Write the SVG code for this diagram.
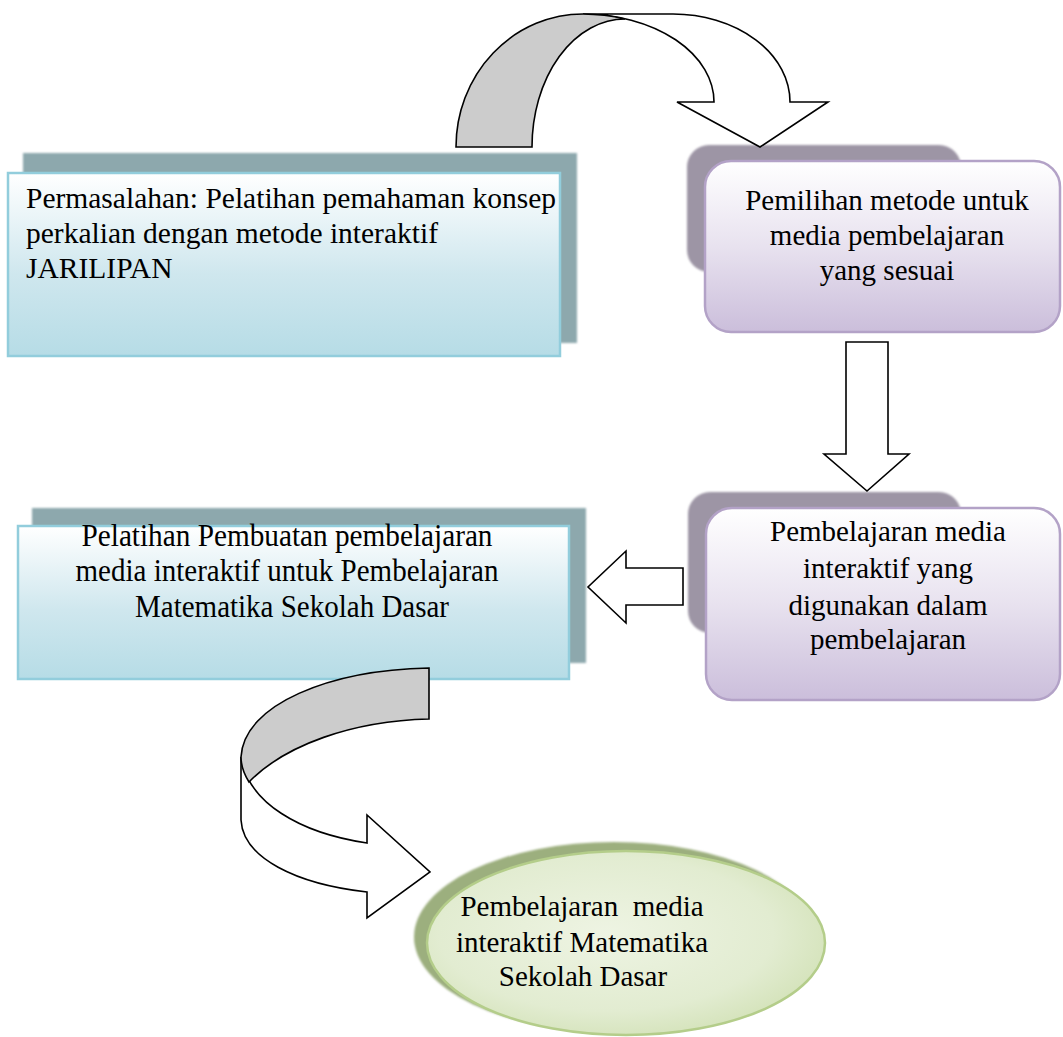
<svg xmlns="http://www.w3.org/2000/svg" width="1063" height="1037" viewBox="0 0 1063 1037">
<style>
text{font-family:"Liberation Serif","Times New Roman",serif;font-size:29px;fill:#000}
.c{text-anchor:middle}
.t1{font-size:29.5px}
.t4{font-size:31px}
.arr{stroke:#000;stroke-width:1.6;stroke-linejoin:miter}
.w{fill:#fff}
.g{fill:#cccccc}
.bshadow{fill:#8da8ad}
.bfront{fill:url(#gBlue);stroke:#92cddc;stroke-width:2.5}
.pshadow{fill:#9d95a5}
.pfront{fill:url(#gPurple);stroke:#b3a2c7;stroke-width:2.5}
</style>
<defs>
<linearGradient id="gBlue" x1="0" y1="0" x2="0" y2="1">
<stop offset="0" stop-color="#ffffff"/>
<stop offset="0.55" stop-color="#cfe7ee"/>
<stop offset="1" stop-color="#b6dce6"/>
</linearGradient>
<linearGradient id="gPurple" x1="0" y1="0" x2="0" y2="1">
<stop offset="0" stop-color="#ffffff"/>
<stop offset="0.5" stop-color="#e8e2ef"/>
<stop offset="1" stop-color="#cbbedb"/>
</linearGradient>
<radialGradient id="gGreen" cx="0.45" cy="0.45" r="0.6">
<stop offset="0" stop-color="#eef4e3"/>
<stop offset="0.7" stop-color="#e2ecd1"/>
<stop offset="1" stop-color="#d3e2b8"/>
</radialGradient>
<filter id="soft" x="-5%" y="-5%" width="110%" height="110%">
<feGaussianBlur stdDeviation="1.2"/>
</filter>
</defs>

<g id="node-permasalahan">
<rect class="bshadow" x="23" y="153" width="554" height="190" filter="url(#soft)"/>
<rect class="bfront" x="8" y="173" width="552" height="183"/>
<text class="t1" x="26" y="208">Permasalahan: Pelatihan pemahaman konsep</text>
<text class="t1" x="26" y="243">perkalian dengan metode interaktif</text>
<text class="t1" x="26" y="278">JARILIPAN</text>
</g>

<g id="node-pemilihan">
<rect class="pshadow" x="687" y="145" width="274" height="127" rx="22" filter="url(#soft)"/>
<rect class="pfront" x="705" y="161" width="355" height="171" rx="26"/>
<text class="c" x="887" y="210">Pemilihan metode untuk</text>
<text class="c" x="887" y="245">media pembelajaran</text>
<text class="c" x="887" y="280">yang sesuai</text>
</g>

<g id="node-pembelajaran">
<rect class="pshadow" x="688" y="492" width="273" height="141" rx="22" filter="url(#soft)"/>
<rect class="pfront" x="706" y="508" width="354" height="192" rx="26"/>
<text class="c" x="888" y="541">Pembelajaran media</text>
<text class="c" x="888" y="578">interaktif yang</text>
<text class="c" x="888" y="615">digunakan dalam</text>
<text class="c" x="888" y="649">pembelajaran</text>
</g>

<g id="node-pelatihan">
<rect class="bshadow" x="32" y="508" width="554" height="155" filter="url(#soft)"/>
<rect class="bfront" x="18" y="526" width="551" height="153"/>
<text class="c t4" x="287" y="546" textLength="411" lengthAdjust="spacingAndGlyphs">Pelatihan Pembuatan pembelajaran</text>
<text class="c t4" x="287" y="581" textLength="423" lengthAdjust="spacingAndGlyphs">media interaktif untuk Pembelajaran</text>
<text class="c t4" x="292" y="617" textLength="314" lengthAdjust="spacingAndGlyphs">Matematika Sekolah Dasar</text>
</g>

<g id="node-hasil">
<ellipse cx="614" cy="937" rx="200" ry="95" fill="#9caf7e" filter="url(#soft)"/>
<ellipse cx="626" cy="943" rx="199" ry="92" fill="url(#gGreen)" stroke="#b4cd8a" stroke-width="2.5"/>
<text class="c" x="582" y="916" xml:space="preserve">Pembelajaran  media</text>
<text class="c" x="582" y="952">interaktif Matematika</text>
<text class="c" x="583" y="986">Sekolah Dasar</text>
</g>

<g id="connectors">
<g id="arrow-top">
<path class="arr w" d="M583,14 L673,14 A117,88 0 0 1 790,102 L828,102 L760,147 L677,102 L714,102 A131,88 0 0 0 583,14 Z"/>
<path class="arr g" d="M456,147 A127,133 0 0 1 583,14 A131,88 0 0 1 625,19 A93,128 0 0 0 532,147 Z"/>
</g>
<path id="arrow-down" class="arr w" d="M846,342 L888,342 L888,454 L909,454 L867,491 L824,454 L846,454 Z"/>
<path id="arrow-left" class="arr w" d="M683,568 L683,605 L626,605 L626,623 L588,587 L626,551 L626,568 Z"/>
<g id="arrow-bottom">
<path class="arr w" d="M241,757 C248,803 300,833 367,843 L367,815 L430,872 L367,918 L367,892 C296,884 243,858 241,820 Z"/>
<path class="arr g" d="M429,668 L429,719 C352,721 285,745 249,782 C244,774 241,765 241,757 C244,704 330,670 429,668 Z"/>
</g>
</g>
</svg>
